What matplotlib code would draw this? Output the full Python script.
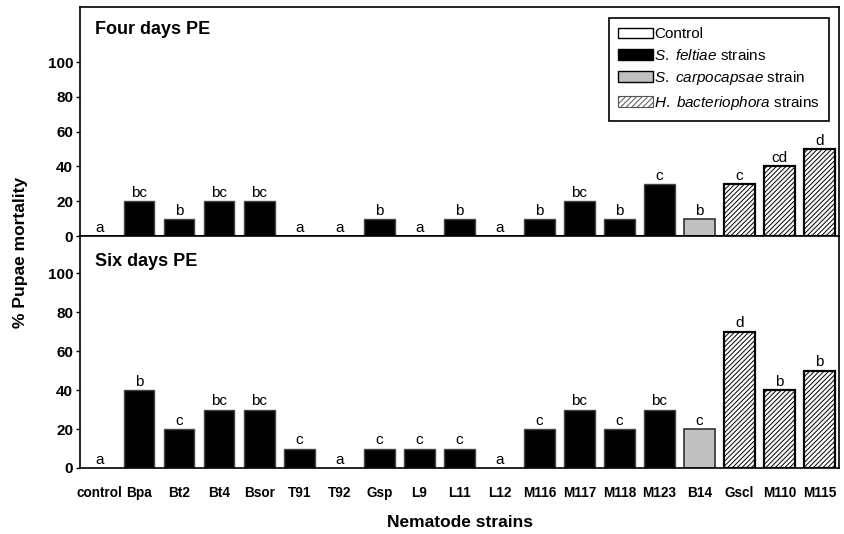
import numpy as np
import matplotlib
matplotlib.use("Agg")
import matplotlib.pyplot as plt
from matplotlib.patches import Patch

plt.rcParams['font.family'] = ['Liberation Sans', 'DejaVu Sans']
plt.rcParams['mathtext.fontset'] = 'custom'
plt.rcParams['mathtext.rm'] = 'Liberation Sans'
plt.rcParams['mathtext.it'] = 'Liberation Sans:italic'
plt.rcParams['hatch.linewidth'] = 0.7

# Dados
strains = ['control', 'Bpa', 'Bt2', 'Bt4', 'Bsor', 'T91', 'T92', 'Gsp', 'L9', 'L11',
           'L12', 'M116', 'M117', 'M118', 'M123', 'B14', 'Gscl', 'M110', 'M115']
groups = ['ctrl'] + ['sf'] * 14 + ['sc'] + ['hb'] * 3

four_days = [0, 20, 10, 20, 20, 0, 0, 10, 0, 10, 0, 10, 20, 10, 30, 10, 30, 40, 50]
four_letters = ['a', 'bc', 'b', 'bc', 'bc', 'a', 'a', 'b', 'a', 'b', 'a', 'b', 'bc', 'b',
                'c', 'b', 'c', 'cd', 'd']

six_days = [0, 40, 20, 30, 30, 10, 0, 10, 10, 10, 0, 20, 30, 20, 30, 20, 70, 40, 50]
six_letters = ['a', 'b', 'c', 'bc', 'bc', 'c', 'a', 'c', 'c', 'c', 'a', 'c', 'bc', 'c',
               'bc', 'c', 'd', 'b', 'b']

# Estilo de cada grupo
style = {
    'ctrl': dict(facecolor='white', edgecolor='black', hatch=None, lw=1.0),
    'sf': dict(facecolor='black', edgecolor='#444444', hatch=None, lw=1.0),
    'sc': dict(facecolor='#c0c0c0', edgecolor='#333333', hatch=None, lw=1.2),
    'hb': dict(facecolor='white', edgecolor='black', hatch='///////', lw=1.6),
}

x = np.arange(len(strains))
width = 0.76

fig = plt.figure(figsize=(8.44, 5.34), dpi=100)
ax1 = fig.add_axes([0.0948, 0.558, 0.8995, 0.4287])
ax2 = fig.add_axes([0.0948, 0.1236, 0.8995, 0.4344])


def draw_panel(ax, values, letters, ymax, title, title_y):
    for xi, v, g in zip(x, values, groups):
        s = style[g]
        ax.bar(xi, v, width, color=s['facecolor'], edgecolor=s['edgecolor'],
               hatch=s['hatch'], linewidth=s['lw'] if v > 0 else 0)
    for xi, v, lab in zip(x, values, letters):
        ax.text(xi, v + 0.6, lab, ha='center', va='bottom', fontsize=11)
    ax.set_xlim(-0.48, 18.49)
    ax.set_ylim(0, ymax)
    ax.set_yticks([0, 20, 40, 60, 80, 100])
    ax.tick_params(axis='y', direction='out', length=3, width=1, labelsize=11, pad=2)
    for t in ax.get_yticklabels():
        t.set_fontweight('bold')
    for sp in ax.spines.values():
        sp.set_linewidth(1.2)
    ax.text(0.02, title_y, title, transform=ax.transAxes,
            fontsize=13, fontweight='bold', ha='left', va='baseline')


draw_panel(ax1, four_days, four_letters, 131.6, 'Four days PE', 0.882)
draw_panel(ax2, six_days, six_letters, 119, 'Six days PE', 0.871)

ax1.set_xticks([])
ax2.set_xticks(x)
ax2.set_xticklabels(strains, fontsize=9.8, fontweight='bold')
ax2.tick_params(axis='x', length=0, pad=13)
ax2.set_xlabel('Nematode strains', fontsize=12.5, fontweight='bold', labelpad=11)
fig.text(0.024, 0.528, '% Pupae mortality', rotation=90, fontsize=12.5,
         fontweight='bold', ha='center', va='center')

handles = [Patch(facecolor='white', edgecolor='black', linewidth=1.0),
           Patch(facecolor='black', edgecolor='black'),
           Patch(facecolor='#c0c0c0', edgecolor='black'),
           Patch(facecolor='white', edgecolor='#555555', hatch='//////', linewidth=0.8)]
labels = ['Control', r'$\it{S.}$ $\it{feltiae}$ strains', r'$\it{S.}$ $\it{carpocapsae}$ strain',
          r'$\it{H.}$ $\it{bacteriophora}$ strains']
leg = ax1.legend(handles, labels, loc='upper right', bbox_to_anchor=(0.987, 0.952),
                 fontsize=11, fancybox=False, framealpha=1, edgecolor='black',
                 handlelength=2.3, handleheight=0.7, handletextpad=0.1,
                 borderpad=0.6, labelspacing=0.42, borderaxespad=0)
leg.get_frame().set_linewidth(1.2)

fig.savefig('out.png', dpi=100)
